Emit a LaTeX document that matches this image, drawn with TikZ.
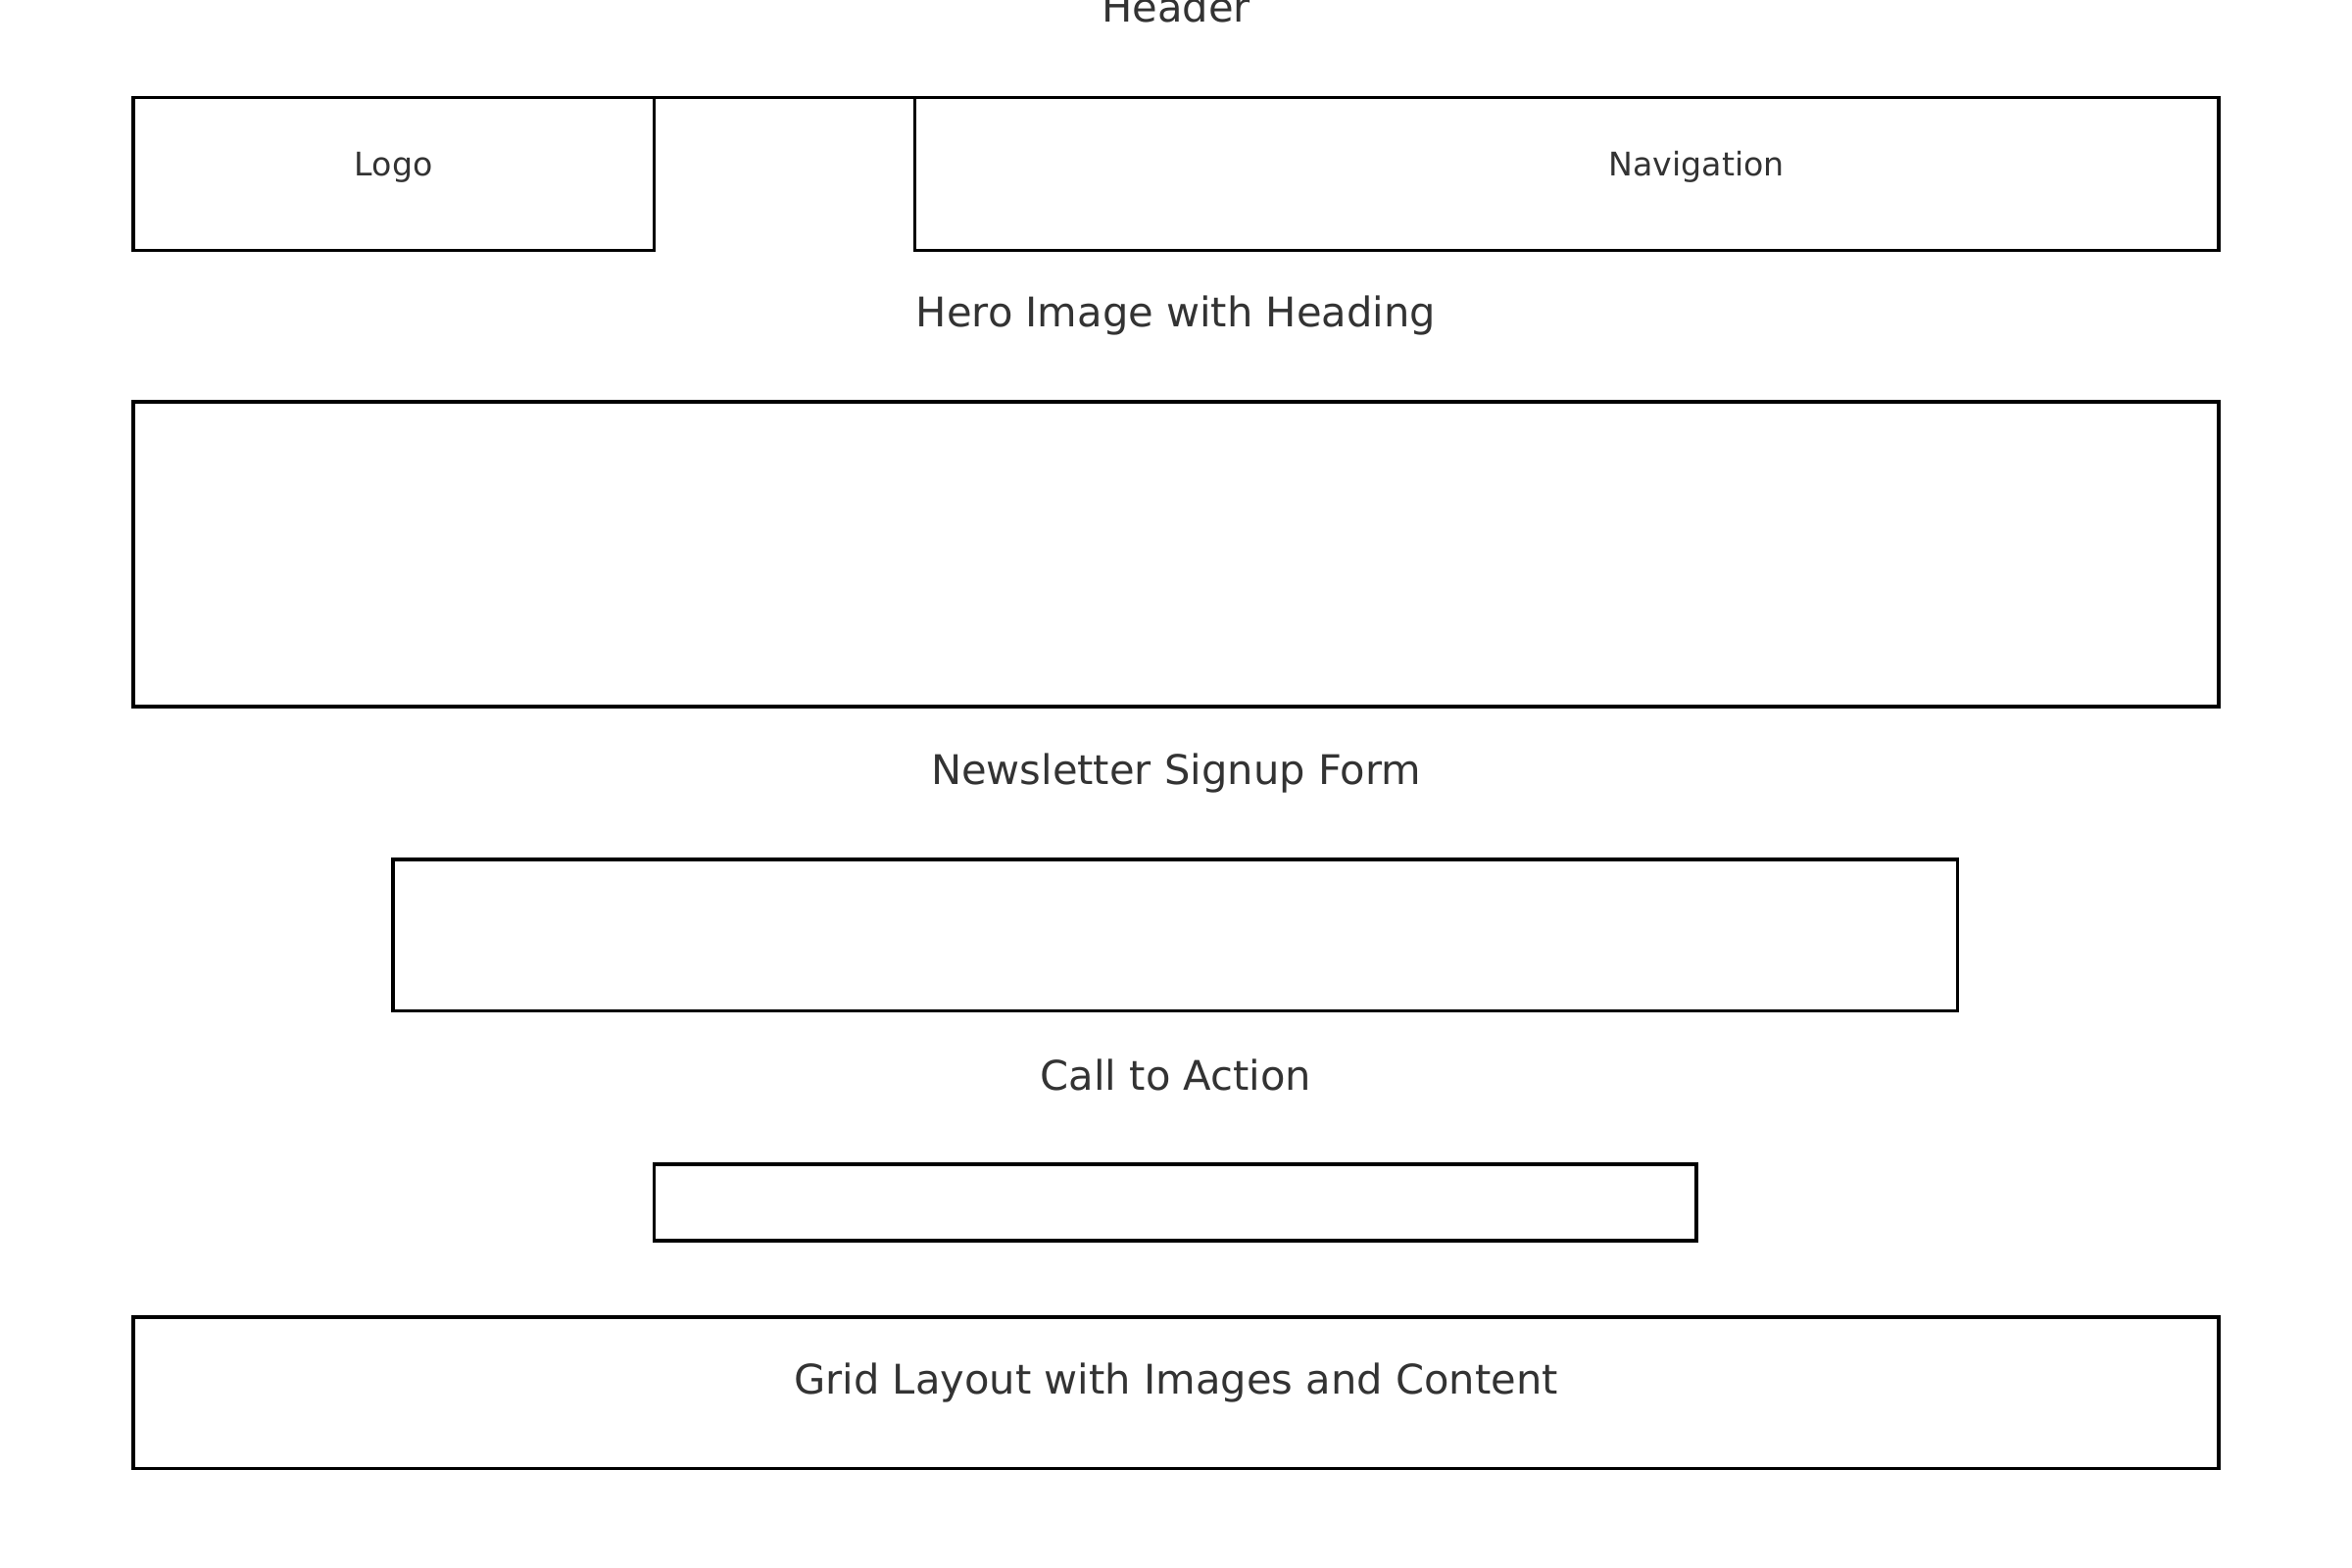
\documentclass[tikz,border=0pt]{standalone}
\usepackage{fontspec}
\setmainfont{DejaVu Sans}
\definecolor{txt}{HTML}{333333}
\begin{document}
\begin{tikzpicture}[x=1pt,y=-1pt,
  box/.style={draw=black,line width=2.3pt,rectangle,inner sep=0pt,outer sep=0pt},
  biglabel/.style={text=txt,font=\fontsize{27.2}{32}\selectfont,inner sep=0pt,anchor=base},
  smalllabel/.style={text=txt,font=\fontsize{21.7}{26}\selectfont,inner sep=0pt,anchor=base}]
\useasboundingbox[fill=white] (0,0) rectangle (1568,1045.33);
% boxes
\node[box,minimum width=347pt,minimum height=102pt] (logo) at (262.5,116) {};
\node[box,minimum width=869pt,minimum height=102pt] (nav) at (1044.5,116) {};
\node[box,minimum width=1390pt,minimum height=203pt] (hero) at (784,369.5) {};
\node[box,minimum width=1043pt,minimum height=101pt] (news) at (783.5,623.5) {};
\node[box,minimum width=695pt,minimum height=51pt] (cta) at (783.5,801.5) {};
\node[box,minimum width=1390pt,minimum height=101pt] (grid) at (784,928.5) {};
\draw[line width=2.3pt] (logo.north east) -- (nav.north west);
% labels
\node[biglabel] (headerlbl) at (784,15) {Header};
\node[smalllabel] (logolbl) at ([yshift=-1pt]logo.center) {Logo};
\node[smalllabel] (navlbl) at (1131,117) {Navigation};
\node[biglabel] (herolbl) at (784,218) {Hero Image with Heading};
\node[biglabel] (newslbl) at (784,523) {Newsletter Signup Form};
\node[biglabel] (ctalbl) at (784,727) {Call to Action};
\node[biglabel] (gridlbl) at ([yshift=-1pt]grid.center) {Grid Layout with Images and Content};
\end{tikzpicture}
\end{document}
